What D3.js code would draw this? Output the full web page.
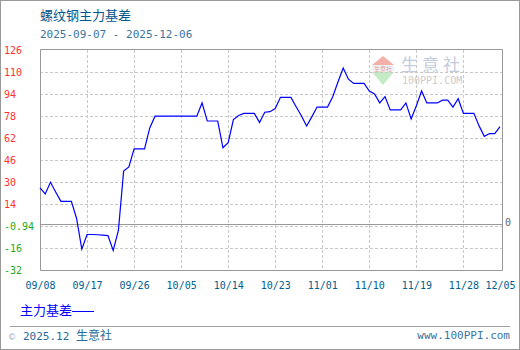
<!DOCTYPE html>
<html lang="zh">

<head>
    <meta charset="utf-8">
    <title>螺纹钢主力基差</title>
    <script type="text/javascript" src="https://cdn.jsdelivr.net/npm/d3@7"></script>
    <style type="text/css">
        body { margin: 0; background: #fff; }
        svg text { font-family: "DejaVu Sans Mono", monospace; }
        .cjk { font-family: "Noto Sans CJK SC", sans-serif; }
    </style>
</head>

<body>
    <script type="text/javascript">

        var w = 520;
        var h = 350;
        var plotL = 40, plotR = 502, plotT = 50, plotB = 270;

        // daily values from 09/08 to 12/05 (weekends / holidays carried flat)
        var startDate = "2025-09-08";
        var basis = [
            27, 22.6, 31, 24, 17.3, 17.3, 17.3, 5, -17, -6.5,
            -6.5, -6.7, -7, -7.3, -18, -3.5, 39, 42, 55, 55,
            55, 70, 78.5, 78.5, 78.5, 78.5, 78.5, 78.5, 78.5, 78.5,
            78.5, 88, 75, 75, 75, 55.8, 59.4, 76, 79, 80.5,
            80.5, 80.5, 74, 81.3, 81.7, 84, 92, 92, 92, 85.3,
            78.8, 71.4, 78, 85, 85, 85, 92.5, 103, 113, 105,
            102, 102, 102, 96.5, 94.5, 88, 92.5, 83, 83, 83,
            88, 76.5, 86, 96.6, 88, 88, 88, 90, 90, 85,
            91, 80.5, 80.5, 80.5, 71.5, 64, 66, 66, 71
        ];
        var yTickLabels = ["126", "110", "94", "78", "62", "46", "30", "14", "-0.94", "-16", "-32"];
        var xTickLabels = ["09/08", "09/17", "09/26", "10/05", "10/14", "10/23", "11/01", "11/10", "11/19", "11/28", "12/05"];
        var seriesName = "主力基差";

        var parseDay = d3.timeParse("%Y-%m-%d");
        var t0 = parseDay(startDate);
        var dataset = basis.map(function (v, i) {
            return { Date: d3.timeDay.offset(t0, i), Value: v };
        });

        var xScale = d3.scaleTime()
            .domain(d3.extent(dataset, function (d) { return d.Date; }))
            .range([plotL, 500]);

        var yScale = d3.scaleLinear()
            .domain([-32, 126])
            .range([plotB, plotT]);

        var yTickPos = yTickLabels.map(function (s, i) {
            return 126 - i * 158 / (yTickLabels.length - 1);
        });
        var parseMD = d3.timeParse("%Y/%m/%d");
        var xTickDates = xTickLabels.map(function (s) { return parseMD("2025/" + s); });

        var svg = d3.select("body")
            .append("svg")
            .attr("width", w)
            .attr("height", h);

        svg.append("rect")
            .attr("x", 0.5).attr("y", 0.5)
            .attr("width", w - 1).attr("height", h - 1)
            .attr("fill", "#fff")
            .attr("stroke", "#999");

        //Title
        svg.append("text")
            .attr("class", "cjk")
            .attr("x", 40).attr("y", 20)
            .attr("font-size", "13px")
            .attr("fill", "#00568a")
            .text("螺纹钢主力基差");

        svg.append("text")
            .attr("x", 40).attr("y", 38)
            .attr("font-size", "11px")
            .attr("fill", "#3b74a0")
            .text("2025-09-07 - 2025-12-06");

        //Watermark
        var wm = svg.append("g");
        wm.append("path")
            .attr("d", "M383,56 L394,65 L372,65 Z")
            .attr("fill", "#f3b0a8");
        wm.append("rect")
            .attr("x", 372).attr("y", 65).attr("width", 22).attr("height", 6)
            .attr("fill", "#eef2f6");
        wm.append("text")
            .attr("class", "cjk")
            .attr("x", 383).attr("y", 70.5)
            .attr("text-anchor", "middle")
            .attr("font-size", "6px")
            .attr("fill", "#e0a0a0")
            .text("生意社");
        wm.append("path")
            .attr("d", "M372,72 L394,72 L383,85 Z")
            .attr("fill", "#c4ecc4");
        wm.append("text")
            .attr("class", "cjk")
            .attr("x", 401).attr("y", 71)
            .attr("font-size", "17px")
            .attr("letter-spacing", "4px")
            .attr("fill", "#c3cbdd")
            .text("生意社");
        wm.append("text")
            .attr("x", 402).attr("y", 84)
            .attr("font-family", "DejaVu Sans, sans-serif")
            .attr("font-size", "10px")
            .attr("fill", "#cccccc")
            .text("100PPI.COM");

        //Grid
        svg.selectAll("line.hgrid")
            .data(yTickPos.slice(1, -1))
            .enter()
            .append("line")
            .attr("class", "hgrid")
            .attr("x1", plotL).attr("x2", plotR)
            .attr("y1", function (d) { return Math.round(yScale(d)) + 0.5; })
            .attr("y2", function (d) { return Math.round(yScale(d)) + 0.5; })
            .attr("stroke", "#c8c8c8")
            .attr("stroke-dasharray", "3,2");

        svg.selectAll("line.vgrid")
            .data(xTickDates.slice(1, -1))
            .enter()
            .append("line")
            .attr("class", "vgrid")
            .attr("y1", plotT).attr("y2", plotB)
            .attr("x1", function (d) { return Math.round(xScale(d)) + 0.5; })
            .attr("x2", function (d) { return Math.round(xScale(d)) + 0.5; })
            .attr("stroke", "#c8c8c8")
            .attr("stroke-dasharray", "3,2");

        //Zero line
        svg.append("line")
            .attr("x1", plotL).attr("x2", plotR)
            .attr("y1", Math.floor(yScale(0)) - 0.5)
            .attr("y2", Math.floor(yScale(0)) - 0.5)
            .attr("stroke", "#999");

        //Frame
        svg.append("path")
            .attr("d", "M" + (plotL + 0.5) + "," + (plotT - 0.5) + "H" + (plotR + 0.5) +
                "V" + (plotB + 0.5) + "H" + (plotL + 0.5) + "Z")
            .attr("fill", "none")
            .attr("stroke", "#999");

        //Y labels
        svg.selectAll("text.ylab")
            .data(yTickPos)
            .enter()
            .append("text")
            .attr("class", "ylab")
            .attr("x", 4)
            .attr("y", function (d) { return yScale(d) + 4; })
            .attr("font-size", "10px")
            .attr("fill", function (d, i) {
                return yTickLabels[i].charAt(0) === "-" ? "#22aa22" : "#ff3030";
            })
            .text(function (d, i) { return yTickLabels[i]; });

        svg.append("text")
            .attr("x", 505)
            .attr("y", yScale(0) + 1)
            .attr("font-size", "10px")
            .attr("fill", "#666")
            .text("0");

        //X labels
        var xAxis = d3.axisBottom(xScale)
            .tickValues(xTickDates)
            .tickFormat(function (d, i) { return xTickLabels[i]; })
            .tickSize(0)
            .tickPadding(12);

        var gx = svg.append("g")
            .attr("transform", "translate(0," + plotB + ")")
            .call(xAxis);
        gx.select(".domain").remove();
        gx.selectAll("text")
            .attr("font-family", "DejaVu Sans Mono, monospace")
            .attr("font-size", "10px")
            .attr("fill", "#00608f");

        //Line
        var line = d3.line()
            .x(function (d) { return xScale(d.Date); })
            .y(function (d) { return yScale(d.Value); });

        svg.append("path")
            .datum(dataset)
            .attr("d", line)
            .attr("fill", "none")
            .attr("stroke", "#0000ff")
            .attr("stroke-width", 1.2);

        //Legend
        svg.append("text")
            .attr("class", "cjk")
            .attr("x", 20).attr("y", 315)
            .attr("font-size", "13px")
            .attr("fill", "#0000ff")
            .text(seriesName);
        svg.append("line")
            .attr("x1", 72).attr("x2", 94)
            .attr("y1", 311.5).attr("y2", 311.5)
            .attr("stroke", "#0000ff");

        //Footer
        svg.append("line")
            .attr("x1", 10).attr("x2", 510)
            .attr("y1", 326.5).attr("y2", 326.5)
            .attr("stroke", "#a0a0a0");

        svg.append("text")
            .attr("x", 9).attr("y", 340)
            .attr("font-size", "10px")
            .attr("fill", "#9ab4cc")
            .text("©");
        svg.append("text")
            .attr("x", 23).attr("y", 340)
            .attr("font-size", "11px")
            .attr("fill", "#2a6a9a")
            .text("2025.12");
        svg.append("text")
            .attr("class", "cjk")
            .attr("x", 76).attr("y", 340)
            .attr("font-size", "12px")
            .attr("fill", "#2a6a9a")
            .text("生意社");
        svg.append("text")
            .attr("x", 510).attr("y", 339)
            .attr("text-anchor", "end")
            .attr("font-size", "11px")
            .attr("fill", "#3b74a0")
            .text("www.100PPI.com");

    </script>
</body>

</html>
